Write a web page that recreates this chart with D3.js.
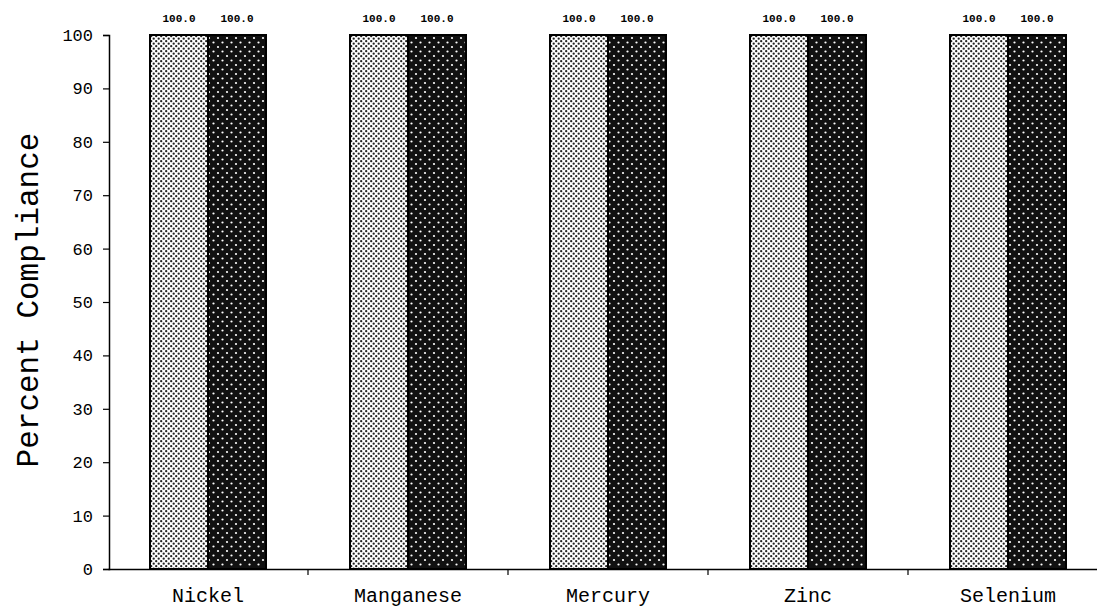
<!DOCTYPE html>
<html><head><meta charset="utf-8">
<script src="https://cdn.jsdelivr.net/npm/d3@7"></script>
<style>body{margin:0;background:#fff}svg{display:block}</style>
</head><body>
<svg id="c" width="1097" height="611"></svg>
<script>
const categories = ["Nickel","Manganese","Mercury","Zinc","Selenium"];
const seriesNames = ["Series A","Series B"];
const seriesA = [100.0,100.0,100.0,100.0,100.0];
const seriesB = [100.0,100.0,100.0,100.0,100.0];
const yTicks = [0,10,20,30,40,50,60,70,80,90,100];

const svg = d3.select("#c");
const defs = svg.append("defs");
// light pattern: white with dense black dots
const p1 = defs.append("pattern").attr("id","light").attr("patternUnits","userSpaceOnUse").attr("width",5).attr("height",5);
p1.append("rect").attr("width",5).attr("height",5).attr("fill","#fff");
p1.append("circle").attr("cx",1.2).attr("cy",1.2).attr("r",1.15).attr("fill","#222");
p1.append("circle").attr("cx",3.7).attr("cy",3.7).attr("r",1.15).attr("fill","#222");
// dark pattern: black with white dots
const p2 = defs.append("pattern").attr("id","dark").attr("patternUnits","userSpaceOnUse").attr("width",9).attr("height",9);
p2.append("rect").attr("width",9).attr("height",9).attr("fill","#111");
p2.append("circle").attr("cx",2).attr("cy",2).attr("r",1.1).attr("fill","#fff");
p2.append("circle").attr("cx",6.5).attr("cy",6.5).attr("r",1.1).attr("fill","#fff");

const x0 = d3.scaleBand().domain(categories).range([108,1108]).paddingInner(0).paddingOuter(0);
const y = d3.scaleLinear().domain([0,100]).range([569,35]);
const x1 = d3.scaleBand().domain(seriesNames).range([0,116]);
const offset = (x0.bandwidth()-116)/2;

const font = "'Liberation Mono','DejaVu Sans Mono','Courier New',monospace";

// bars
const rows = categories.map((c,i)=>({c, vals:[seriesA[i],seriesB[i]]}));
const g = svg.append("g");
rows.forEach(r=>{
  r.vals.forEach((v,j)=>{
    const xx = x0(r.c)+offset+x1(seriesNames[j]);
    g.append("rect").attr("x",xx).attr("y",y(v)).attr("width",x1.bandwidth()).attr("height",y(0)-y(v))
      .attr("fill", j===0?"url(#light)":"url(#dark)").attr("stroke","#000").attr("stroke-width",2);
    g.append("text").attr("x",xx+x1.bandwidth()/2).attr("y",y(v)-13).attr("text-anchor","middle")
      .attr("font-family",font).attr("font-weight","bold").attr("font-size",11).attr("fill","#000")
      .text(v.toFixed(1));
  });
});

// y axis
const ya = svg.append("g").attr("transform","translate(109,0)")
  .call(d3.axisLeft(y).tickValues(yTicks).tickSize(6).tickPadding(10));
ya.select(".domain").attr("stroke","#000").attr("stroke-width",1.5);
ya.selectAll(".tick line").attr("stroke","#000").attr("stroke-width",1.2);
ya.selectAll("text").attr("font-family",font).attr("font-size",17).attr("fill","#000");

// x axis
const xa = svg.append("g").attr("transform","translate(0,569)")
  .call(d3.axisBottom(x0).tickSize(0));
xa.select(".domain").attr("stroke","#000").attr("stroke-width",1.5);
xa.selectAll("text").attr("font-family",font).attr("font-size",20).attr("fill","#000")
  .attr("y",33).attr("dy",0);
// between-category ticks
svg.append("g").selectAll("line").data(categories.slice(1)).join("line")
  .attr("x1",d=>x0(d)).attr("x2",d=>x0(d)).attr("y1",569).attr("y2",575).attr("stroke","#000").attr("stroke-width",1.2);

// y title
svg.append("text").attr("transform","translate(38,300) rotate(-90)").attr("text-anchor","middle")
  .attr("font-family",font).attr("font-size",31).attr("fill","#000").text("Percent Compliance");
</script>
</body></html>
